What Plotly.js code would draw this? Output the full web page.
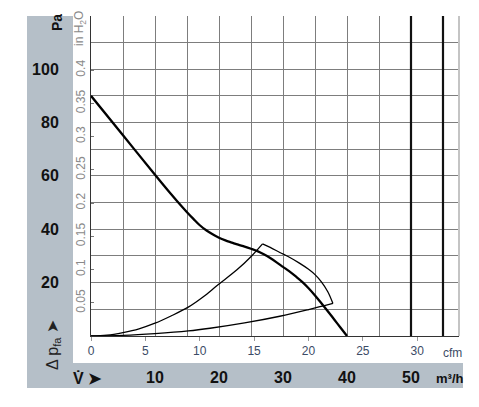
<!DOCTYPE html>
<html>
<head>
<meta charset="utf-8">
<script src="https://cdn.plot.ly/plotly-3.0.1.min.js"></script>
<style>
html,body{margin:0;padding:0;background:#fff;}
#chart{width:479px;height:407px;}
#chart svg text{font-stretch:condensed !important;}
</style>
</head>
<body>
<div id="chart"></div>
<script>
// ---- data (flow in m³/h, pressure in Pa) ----
const flowFan = [0, 5, 10, 12, 13.5, 15, 16, 17, 18, 19, 20, 21, 22, 23, 24, 25, 26, 27, 28, 29, 30, 31, 32, 33, 34, 35, 36, 37, 38, 39, 40];
const paFan   = [90, 75.2, 60.4, 54.6, 50.4, 46.4, 43.9, 41.5, 39.6, 38.1, 36.8, 35.8, 35, 34.2, 33.5, 32.7, 31.8, 30.6, 29.2, 27.6, 25.9, 24.2, 22.3, 20.3, 17.9, 15.2, 12.3, 9.3, 6.2, 3.1, 0];

const flowRangeHi = [0, 2.5, 5, 7.5, 10, 12.5, 15.2, 17.5, 19.8, 22.8, 25.1, 26.8];
const paRangeHi   = [0, 0.3, 1.3, 2.7, 4.8, 7.5, 10.8, 14.6, 19.1, 24.8, 30, 34.5];
const flowRangeArc = [26.8, 28, 29.5, 31, 32.5, 34, 35, 36, 37, 37.8];
const paRangeArc   = [34.5, 33.2, 31.3, 29.5, 27.4, 25, 23, 20.3, 16.6, 12.2];
const flowRangeLo = [37.8, 34, 29.5, 24, 18.6, 15.2, 10, 5, 0];
const paRangeLo   = [12.2, 9.9, 7.4, 4.9, 2.9, 1.9, 0.9, 0.25, 0];

const limitFlows = [50, 55];

const paTicks = [20, 40, 60, 80, 100];
const inH2OTicks = [0.05, 0.1, 0.15, 0.2, 0.25, 0.3, 0.35, 0.4];
const inH2OLabels = ['0.05', '0.1', '0.15', '0.2', '0.25', '0.3', '0.35', '0.4'];
const cfmTicks = [0, 5, 10, 15, 20, 25, 30];
const m3hTicks = [10, 20, 30, 40, 50];

const PA_PER_INH2O = 249.09;
const M3H_PER_CFM = 1.699;
const X_MAX = 57.5, Y_MAX = 119.9;

// ---- layout helpers ----
const L = 91, R = 459, T = 16, B = 336;
const px = v => (v - L) / (R - L);
const py = v => (B - v) / (B - T);
const NARROW = '"Liberation Sans Narrow", "Liberation Sans", Arial, sans-serif';
const GRID = '#7d7d7d';

const lineTrace = (x, y, w) => ({
  x: x, y: y, type: 'scatter', mode: 'lines',
  line: {color: '#000', width: w, shape: 'spline', smoothing: 1},
  hoverinfo: 'skip', showlegend: false
});

const data = [
  lineTrace(flowRangeHi, paRangeHi, 1.3),
  lineTrace(flowRangeArc, paRangeArc, 1.3),
  lineTrace(flowRangeLo, paRangeLo, 1.3),
  lineTrace(flowFan, paFan, 2.3)
];

const shapes = [
  {type: 'rect', xref: 'paper', yref: 'paper', x0: px(27), x1: px(73), y0: py(388), y1: 1,
   fillcolor: '#b5bfc8', line: {width: 0}, layer: 'below'},
  {type: 'rect', xref: 'paper', yref: 'paper', x0: px(27), x1: px(463), y0: py(388), y1: py(363),
   fillcolor: '#b5bfc8', line: {width: 0}, layer: 'below'},
  {type: 'line', xref: 'paper', yref: 'paper', x0: 1, x1: 1, y0: 0, y1: 1,
   line: {color: '#c4c4c4', width: 2}}
];
limitFlows.forEach(f => shapes.push({type: 'line', xref: 'x', yref: 'paper', x0: f, x1: f, y0: 0, y1: 1,
  line: {color: '#111', width: 2.2}}));

const ann = (text, x, y, size, color, angle) => ({
  text: text, xref: 'paper', yref: 'paper', x: px(x), y: py(y), xanchor: 'center', yanchor: 'middle',
  textangle: angle || 0, showarrow: false, font: {family: NARROW, size: size, color: color}
});
const annotations = [
  ann('<b>Pa</b>', 57, 23, 14, '#111', -90),
  ann('in H<sub>2</sub>O', 80, 29, 12, '#8a8a8a', -90),
  ann('Δ p<sub>fa</sub> ➤', 53, 345, 16, '#222', -90),
  ann('<b>V̇ ➤</b>', 87, 378, 16, '#111'),
  ann('cfm', 452, 353, 12, '#3c4b66'),
  ann('<b>m³/h</b>', 450, 378, 13, '#111')
];

const layout = {
  width: 479, height: 407,
  margin: {l: L, r: 479 - R, t: T, b: 407 - B, pad: 0},
  paper_bgcolor: '#fff', plot_bgcolor: '#fff',
  showlegend: false,
  xaxis: {
    range: [0, X_MAX], tickmode: 'array', tickvals: m3hTicks, ticktext: m3hTicks.map(String),
    showgrid: true, gridcolor: GRID, gridwidth: 1,
    minor: {tickmode: 'linear', tick0: 0, dtick: 5, showgrid: true, gridcolor: GRID, gridwidth: 1, ticks: ''},
    ticks: '', ticklabelstandoff: 27,
    tickfont: {family: NARROW, size: 16, color: '#111', weight: 'bold'},
    showline: true, linecolor: '#333', linewidth: 1, zeroline: false, fixedrange: true
  },
  xaxis2: {
    overlaying: 'x', anchor: 'y', side: 'bottom', range: [0, X_MAX / M3H_PER_CFM],
    tickmode: 'array', tickvals: cfmTicks, ticktext: cfmTicks.map(String),
    ticks: 'outside', ticklen: 4, tickcolor: '#999', showgrid: false, zeroline: false,
    showline: false, tickfont: {family: NARROW, size: 12, color: '#3c4b66'}
  },
  yaxis: {
    range: [0, Y_MAX], tickmode: 'array', tickvals: paTicks, ticktext: paTicks.map(String),
    showgrid: true, gridcolor: GRID, gridwidth: 1,
    minor: {tickmode: 'linear', tick0: 0, dtick: 10, showgrid: true, gridcolor: GRID, gridwidth: 1, ticks: ''},
    ticks: '', ticklabelstandoff: 28,
    tickfont: {family: NARROW, size: 16, color: '#111', weight: 'bold'},
    showline: true, linecolor: '#333', linewidth: 1, zeroline: false, fixedrange: true
  },
  yaxis2: {
    overlaying: 'y', anchor: 'x', side: 'left', range: [0, Y_MAX / PA_PER_INH2O],
    tickmode: 'array', tickvals: inH2OTicks, ticktext: inH2OLabels, tickangle: -90,
    ticks: 'inside', ticklen: 3, tickcolor: '#777', showgrid: false, zeroline: false, showline: false,
    ticklabelstandoff: 3,
    tickfont: {family: NARROW, size: 12, color: '#8a8a8a'}
  },
  shapes: shapes,
  annotations: annotations
};

// attach the cfm / inH2O axes with an invisible trace
data.push({x: [0], y: [0], xaxis: 'x2', yaxis: 'y2', type: 'scatter', mode: 'markers',
  marker: {opacity: 0}, hoverinfo: 'skip', showlegend: false});

Plotly.newPlot('chart', data, layout, {displayModeBar: false, staticPlot: true});
</script>
</body>
</html>
